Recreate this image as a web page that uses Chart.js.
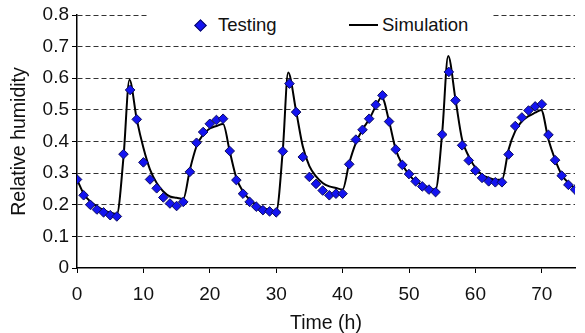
<!DOCTYPE html>
<html>
<head>
<meta charset="utf-8">
<script src="https://cdn.jsdelivr.net/npm/chart.js@4.4.1/dist/chart.umd.min.js"></script>
<style>
body{margin:0;background:#fff;}
#wrap{position:relative;width:585px;height:333px;}
#legend{position:absolute;left:148px;top:3px;width:344px;height:36px;background:#fff;
  font:18.5px "Liberation Sans",Arial,sans-serif;color:#111;}
#legend .dia{position:absolute;left:48px;top:18px;width:7px;height:7px;background:#1414f0;
  border:1px solid #0b0b5e;transform:rotate(45deg);}
#legend .txt{position:absolute;top:12px;line-height:20px;white-space:nowrap;}
#legend .ln{position:absolute;left:201px;top:21px;width:29px;height:2px;background:#000;}
</style>
</head>
<body>
<div id="wrap">
  <canvas id="chart" width="585" height="333"></canvas>
  <div id="legend">
    <div class="dia"></div><div class="txt" style="left:70px">Testing</div>
    <div class="ln"></div><div class="txt" style="left:234px">Simulation</div>
  </div>
</div>
<script>
// DATA
const testHours=[0,1,2,3,4,5,6,7,8,9,10,11,12,13,14,15,16,17,18,19,20,21,22,23,24,25,26,27,28,29,
  30,31,32,33,34,35,36,37,38,39,40,41,42,43,44,45,46,47,48,49,50,51,52,53,54,55,56,57,58,59,
  60,61,62,63,64,65,66,67,68,69,70,71,72,73,74,75];
const testValues=[0.28,0.23,0.20,0.185,0.176,0.167,0.163,0.36,0.563,0.47,0.334,0.28,0.252,0.223,0.204,0.196,
  0.209,0.304,0.396,0.43,0.456,0.468,0.472,0.37,0.278,0.235,0.209,0.194,0.183,0.179,
  0.176,0.369,0.583,0.493,0.351,0.288,0.266,0.245,0.23,0.235,0.235,0.328,0.406,0.437,0.472,0.516,
  0.546,0.463,0.375,0.326,0.297,0.274,0.258,0.248,0.24,0.422,0.62,0.53,0.388,0.34,
  0.308,0.285,0.274,0.271,0.271,0.359,0.449,0.476,0.498,0.511,0.518,0.421,0.341,0.292,0.263,0.248];

const simHours=[0,1,2,3,4,5,6,7,7.9,9,10,11,12,13,14,15,16,17,18,19,20,21,22,23,24,25,26,27,28,29,
  30,31,31.8,33,34,35,36,37,38,39,40,41,42,43,44,45,45.9,47,48,49,50,51,52,53,54,55,55.9,57,58,59,
  60,61,62,63,64,65,66,67,68,69,69.9,71,72,73,74,75,76.3];
const simValues=[0.28,0.235,0.21,0.195,0.183,0.175,0.17,0.35,0.595,0.47,0.38,0.311,0.269,0.242,0.226,0.222,
  0.218,0.311,0.385,0.422,0.441,0.449,0.455,0.369,0.285,0.242,0.216,0.2,0.19,0.184,
  0.179,0.375,0.618,0.496,0.385,0.322,0.29,0.269,0.258,0.253,0.248,0.332,0.396,0.438,0.47,0.512,
  0.54,0.464,0.375,0.327,0.295,0.274,0.263,0.253,0.248,0.428,0.67,0.533,0.406,0.353,
  0.317,0.295,0.285,0.279,0.279,0.375,0.433,0.464,0.48,0.491,0.5,0.406,0.343,0.295,0.269,0.253,0.242];

const xTicks=[0,10,20,30,40,50,60,70];
const yTicks=[0,0.1,0.2,0.3,0.4,0.5,0.6,0.7,0.8];

const FONT='"Liberation Sans", Arial, sans-serif';

new Chart(document.getElementById("chart"),{
  type:"scatter",
  data:{
    datasets:[
      {
        label:"Testing",
        data:testHours.map((h,i)=>({x:h,y:testValues[i]})),
        pointStyle:"rectRot",
        pointRadius:4.8,
        backgroundColor:"#1414f0",
        borderColor:"#0b0b5e",
        borderWidth:1
      },
      {
        label:"Simulation",
        data:simHours.map((h,i)=>({x:h,y:simValues[i]})),
        showLine:true,
        pointRadius:0,
        borderColor:"#000",
        borderWidth:2,
        cubicInterpolationMode:"monotone",
        clip:false
      }
    ]
  },
  options:{
    responsive:false,
    animation:false,
    devicePixelRatio:1,
    layout:{padding:{top:15,right:10,left:0,bottom:0}},
    plugins:{legend:{display:false},tooltip:{enabled:false}},
    scales:{
      x:{
        type:"linear",min:0,max:75,
        afterBuildTicks:s=>{s.ticks=xTicks.map(v=>({value:v}));},
        afterFit:s=>{s.height=65;},
        grid:{drawOnChartArea:false,drawTicks:true,tickLength:5,tickColor:"#000",color:"#000"},
        border:{display:true,color:"#000",width:1.5},
        ticks:{color:"#111",font:{family:FONT,size:19},padding:10,maxRotation:0},
        title:{display:true,text:"Time (h)",color:"#111",font:{family:FONT,size:19.5,lineHeight:1},padding:{top:0,bottom:0}}
      },
      y:{
        min:0,max:0.8,
        afterBuildTicks:s=>{s.ticks=yTicks.map(v=>({value:v}));},
        afterFit:s=>{s.width=77;},
        grid:{
          color:c=>(c.tick && c.tick.value===0)?"rgba(0,0,0,0)":"#333",
          lineWidth:1,tickLength:5,tickColor:"#000",tickBorderDash:[]
        },
        border:{display:true,color:"#000",width:1.5,dash:[5,3]},
        ticks:{color:"#111",font:{family:FONT,size:19},padding:3},
        title:{display:true,text:"Relative humidity",color:"#111",font:{family:FONT,size:19.5},padding:{top:8,bottom:0}}
      }
    }
  }
});
</script>
</body>
</html>
